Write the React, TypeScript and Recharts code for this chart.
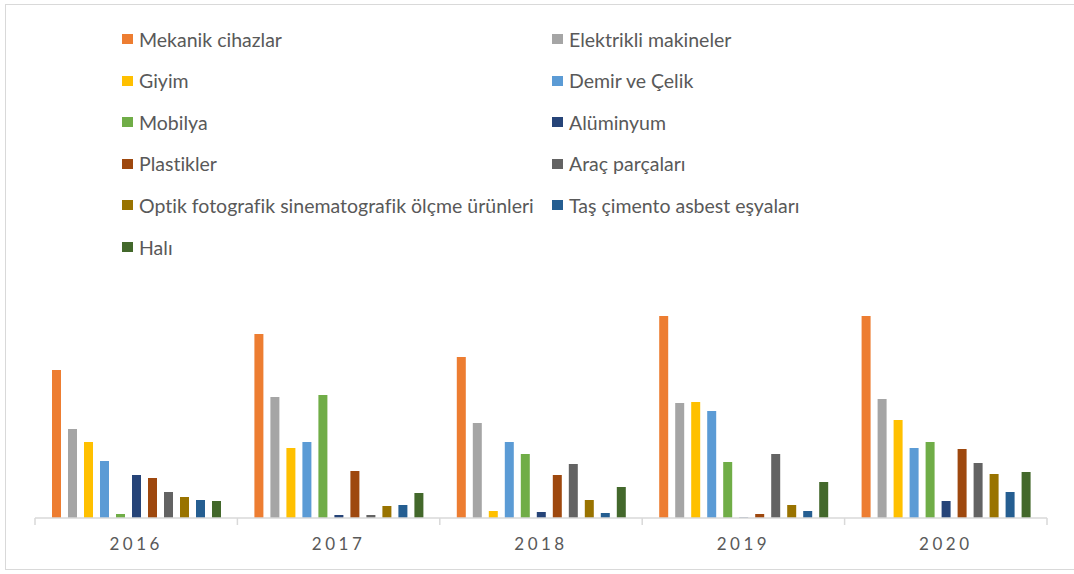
import React from "react";
import { BarChart, Bar, XAxis, YAxis, Legend } from "recharts";

const years = ["2016", "2017", "2018", "2019", "2020"];

const mekanikCihazlar = [148, 184, 161, 202, 202];
const elektrikliMakineler = [89, 121, 95, 115, 119];
const giyim = [76, 70, 7, 116, 98];
const demirVeCelik = [57, 76, 76, 107, 70];
const mobilya = [4, 123, 64, 56, 76];
const aluminyum = [43, 3, 6, 0.5, 17];
const plastikler = [40, 47, 43, 4, 69];
const aracParcalari = [26, 3, 54, 64, 55];
const optik = [21, 12, 18, 13, 44];
const tasCimento = [18, 13, 5, 7, 26];
const hali = [17, 25, 31, 36, 46];

const seriesNames = [
  "Mekanik cihazlar",
  "Elektrikli makineler",
  "Giyim",
  "Demir ve Çelik",
  "Mobilya",
  "Alüminyum",
  "Plastikler",
  "Araç parçaları",
  "Optik fotografik sinematografik ölçme ürünleri",
  "Taş çimento asbest eşyaları",
  "Halı",
];
const seriesValues = [
  mekanikCihazlar,
  elektrikliMakineler,
  giyim,
  demirVeCelik,
  mobilya,
  aluminyum,
  plastikler,
  aracParcalari,
  optik,
  tasCimento,
  hali,
];
const seriesColors = [
  "#ED7D31",
  "#A5A5A5",
  "#FFC000",
  "#5B9BD5",
  "#70AD47",
  "#264478",
  "#9E480E",
  "#636363",
  "#997300",
  "#255E91",
  "#43682B",
];

const data = years.map((y, i) => {
  const row: Record<string, string | number> = { year: y };
  seriesNames.forEach((n, k) => {
    row[n] = seriesValues[k][i];
  });
  return row;
});

const FONT = "Lato, 'Open Sans', sans-serif";

const LegendContent = (props: any) => {
  const payload = [...(props.payload || [])].sort(
    (a: any, b: any) => seriesNames.indexOf(a.value) - seriesNames.indexOf(b.value)
  );
  return (
    <div style={{ position: "relative", width: 1074, height: 260 }}>
      {payload.map((p: any, i: number) => {
        const col = i % 2;
        const row = Math.floor(i / 2);
        const left = col === 0 ? 122 : 552;
        const top = row * 41.6;
        return (
          <div
            key={p.value}
            style={{
              position: "absolute",
              left,
              top,
              height: 22,
              display: "flex",
              alignItems: "center",
              whiteSpace: "nowrap",
            }}
          >
            <span
              style={{
                display: "inline-block",
                width: 11,
                height: 10,
                background: p.color,
                marginRight: 6,
              }}
            />
            <span
              style={{
                fontFamily: FONT,
                fontSize: 19.5,
                color: "#595959",
                fontVariantLigatures: "none",
              }}
            >
              {p.value}
            </span>
          </div>
        );
      })}
    </div>
  );
};

const YearTick = (props: any) => {
  const { x, y, payload, index } = props;
  const off = payload.offset || 0;
  return (
    <g>
      <line x1={x - off} y1={y} x2={x - off} y2={y + 7} stroke="#d9d9d9" strokeWidth={1.5} />
      {index === years.length - 1 && (
        <line x1={x + off} y1={y} x2={x + off} y2={y + 7} stroke="#d9d9d9" strokeWidth={1.5} />
      )}
      <text
        x={x}
        y={y + 32}
        textAnchor="middle"
        fill="#595959"
        fontFamily={FONT}
        fontSize={17}
        letterSpacing={3.5}
      >
        {payload.value}
      </text>
    </g>
  );
};

export default function App() {
  return (
    <div
      style={{
        position: "absolute",
        left: 0,
        top: 0,
        width: 1074,
        height: 574,
        background: "#ffffff",
        overflow: "hidden",
      }}
    >
      <div
        style={{
          position: "absolute",
          left: 5,
          top: 4,
          width: 1080,
          height: 566,
          border: "1.5px solid #d9d9d9",
          boxSizing: "border-box",
        }}
      />
      <BarChart
        width={1074}
        height={574}
        data={data}
        margin={{ top: 298, right: 27, left: 35, bottom: 0 }}
        barSize={9}
        barGap={7}
      >
        <XAxis
          dataKey="year"
          height={56}
          tickLine={false}
          tickSize={0}
          tickMargin={0}
          axisLine={{ stroke: "#d9d9d9", strokeWidth: 1.5 }}
          tick={<YearTick />}
          interval={0}
        />
        <YAxis hide domain={[0, 220]} />
        <Legend
          layout="horizontal"
          verticalAlign="middle"
          align="center"
          itemSorter={null as any}
          content={<LegendContent />}
          wrapperStyle={{ position: "absolute", top: 28, left: 0, width: 1074, height: 260 }}
        />
        {seriesNames.map((n, k) => (
          <Bar
            key={n}
            dataKey={n}
            fill={seriesColors[k]}
            isAnimationActive={false}
          />
        ))}
      </BarChart>
    </div>
  );
}
